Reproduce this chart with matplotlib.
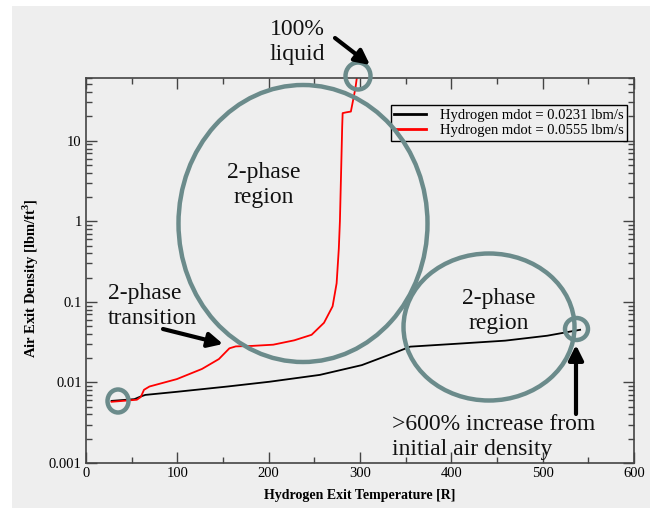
import matplotlib
matplotlib.use("Agg")
import matplotlib.pyplot as plt
from matplotlib.patches import Ellipse, Rectangle, FancyArrowPatch
from matplotlib.ticker import LogLocator, MultipleLocator, FixedLocator, NullFormatter

plt.rcParams['font.family'] = ['Liberation Serif', 'DejaVu Serif']
plt.rcParams['mathtext.fontset'] = 'custom'
plt.rcParams['mathtext.rm'] = 'Liberation Serif'
plt.rcParams['mathtext.bf'] = 'Liberation Serif:bold'

# ---- data ----
temp_low = [28, 53, 60, 65, 99.5, 155, 201, 256, 302, 339, 355, 412, 459, 505, 541]
dens_low = [0.0059, 0.0062, 0.0067, 0.0070, 0.00765, 0.0089, 0.0102, 0.0124,
            0.0164, 0.0236, 0.0278, 0.0305, 0.033, 0.038, 0.045]

temp_high = [28, 55.7, 60, 63.5, 69.5, 99.5, 127, 145.5, 157, 164, 182, 205, 228,
             247, 260.6, 270, 274.4, 276.8, 278, 279.5, 280.5, 281, 285, 290,
             292, 295, 296.5]
dens_high = [0.00575, 0.0061, 0.0066, 0.0081, 0.0089, 0.011, 0.0147, 0.0195,
             0.0265, 0.028, 0.0284, 0.0294, 0.0333, 0.039, 0.055, 0.088, 0.17,
             0.457, 1.0, 5.0, 15.0, 22.0, 22.5, 23.0, 30.0, 45.0, 60.0]

labels = ["Hydrogen mdot = 0.0231 lbm/s", "Hydrogen mdot = 0.0555 lbm/s"]
xticks = [0, 100, 200, 300, 400, 500, 600]
yticks = [0.001, 0.01, 0.1, 1, 10]
yticklabels = ["0.001", "0.01", "0.1", "1", "10"]

W, H = 660, 508
fig = plt.figure(figsize=(W / 100, H / 100), dpi=100)
fig.patch.set_facecolor('white')
panel = Rectangle((12 / W, 0), (650 - 12) / W, 1 - 6 / H, transform=fig.transFigure,
                  facecolor='#eeeeee', edgecolor='none', zorder=-10)
fig.patches.append(panel)

ax = fig.add_axes([86 / W, (H - 463) / H, 548 / W, 385 / H])
ax.set_facecolor('#eeeeee')
ax.set_yscale('log')
ax.set_xlim(0, 600)
ax.set_ylim(0.001, 60)

ax.plot(temp_low, dens_low, color='black', lw=1.3, label=labels[0])
ax.plot(temp_high, dens_high, color='#ff0000', lw=1.3, label=labels[1])

ax.xaxis.set_major_locator(FixedLocator(xticks))
ax.xaxis.set_minor_locator(MultipleLocator(50))
ax.yaxis.set_major_locator(FixedLocator(yticks))
ax.set_yticklabels(yticklabels)
ax.yaxis.set_minor_locator(LogLocator(base=10, subs=range(2, 10), numticks=20))
ax.yaxis.set_minor_formatter(NullFormatter())
ax.tick_params(which='both', direction='in', top=True, right=True, color='#444444', width=1)
ax.tick_params(which='major', length=8, labelsize=10.5, pad=3)
ax.tick_params(which='minor', length=4)
for s in ax.spines.values():
    s.set_color('#444444')
    s.set_linewidth(1.2)

ax.set_xlabel("Hydrogen Exit Temperature [R]", fontsize=10, fontweight='bold', labelpad=6)
ax.set_ylabel(r"Air Exit Density [lbm/ft$^{\mathbf{3}}$]", fontsize=10.5, fontweight='bold')
ax.yaxis.set_label_coords(-(86 - 41) / 548, (463 - 278) / 385)

leg = ax.legend(loc='upper right', bbox_to_anchor=((627 - 86) / 548, (463 - 105) / 385),
                fontsize=10.5, frameon=True, fancybox=False, edgecolor='black',
                facecolor='#eeeeee', framealpha=1, handlelength=2.2, borderpad=0.25,
                labelspacing=0.15, borderaxespad=0, handletextpad=0.9)
leg.get_frame().set_linewidth(1.0)
for lh in leg.get_lines():
    lh.set_linewidth(2)

def fx(px):
    return px / W

def fy(py):
    return 1 - py / H

ecol = '#6b8b8b'
for cx, cy, w, h in [(303, 223.5, 249, 277), (489, 327, 171, 147), (118, 401, 21, 23),
                     (576.5, 329, 23, 22), (358, 76, 25, 27)]:
    e = Ellipse((fx(cx), fy(cy)), w / W, h / H, transform=fig.transFigure,
                fill=False, edgecolor=ecol, lw=3.2, zorder=20)
    fig.patches.append(e)

tkw = dict(transform=fig.transFigure, fontsize=17, color='#111111', zorder=30, linespacing=1.3)
fig.text(fx(297), fy(42), "100%\nliquid", ha='center', va='center', **tkw)
fig.text(fx(264), fy(185), "2-phase\nregion", ha='center', va='center', **tkw)
fig.text(fx(108), fy(306), "2-phase\ntransition", ha='left', va='center', **tkw)
fig.text(fx(499), fy(311), "2-phase\nregion", ha='center', va='center', **tkw)
fig.text(fx(392), fy(437), ">600% increase from\ninitial air density", ha='left', va='center', **tkw)

for (x0, y0), (x1, y1) in [((335, 38), (370, 65)), ((163, 329), (223, 344)), ((576, 414), (576, 345))]:
    a = FancyArrowPatch((fx(x0), fy(y0)), (fx(x1), fy(y1)), transform=fig.transFigure,
                        arrowstyle='-|>', mutation_scale=22, lw=3, color='black', zorder=31,
                        shrinkA=0, shrinkB=0)
    fig.patches.append(a)

fig.savefig('out.png', dpi=100)
